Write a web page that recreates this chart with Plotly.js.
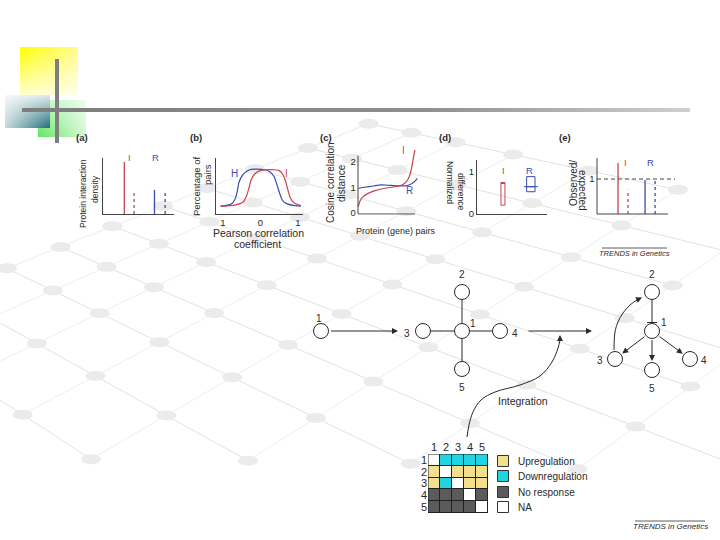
<!DOCTYPE html>
<html><head><meta charset="utf-8">
<script src="https://cdn.plot.ly/plotly-3.0.1.min.js"></script>
<style>html,body{margin:0;padding:0;background:#fff}#chart{width:720px;height:540px}</style>
</head><body><div id="chart"></div>
<script>
// ================= DATA =================
// (a) protein interaction density: I observed, I expected, R observed, R expected
const aCategories = ['I', 'I expected', 'R', 'R expected'];
const aValues = [0.93, 0.43, 0.43, 0.43];
// (b) percentage of pairs vs Pearson correlation coefficient
const bH_x = [-1.07,-0.78,-0.69,-0.62,-0.58,-0.52,-0.43,-0.29,-0.16,0.11,0.24,0.36,0.44,0.51,0.58,0.68,0.91,1.08];
const bH_y = [0.14,0.18,0.25,0.40,0.55,0.65,0.73,0.79,0.80,0.79,0.76,0.67,0.52,0.37,0.25,0.19,0.15,0.14];
const bI_x = [-1.06,-0.69,-0.47,-0.38,-0.31,-0.25,-0.16,-0.03,0.15,0.37,0.51,0.60,0.67,0.73,0.80,0.91,1.08];
const bI_y = [0.14,0.16,0.21,0.31,0.46,0.61,0.71,0.77,0.79,0.79,0.77,0.70,0.58,0.43,0.28,0.19,0.15];
const bTicks = [-1, 0, 1];
const bTickText = ['1', '0', '1'];
// (c) cosine correlation distance vs protein (gene) pairs
const cR_x = [0.006,0.12,0.27,0.41,0.58,0.77,0.85,0.94,1.0,1.04];
const cR_y = [0.97,1.01,1.06,1.10,1.08,1.06,1.07,1.15,1.25,1.36];
const cI_x = [0.006,0.035,0.09,0.18,0.30,0.47,0.65,0.77,0.85,0.91,0.95,0.98,1.0];
const cI_y = [0.25,0.47,0.64,0.77,0.88,0.97,1.03,1.10,1.23,1.49,1.88,2.27,2.47];
const cTicks = [0, 1, 2];
// (d) normalized difference boxes (I, R)
const dCategories = ['I', 'R'];
const dQ1 = [0.21, 0.53];
const dMedian = [0.75, 0.65];
const dQ3 = [0.75, 0.89];
const dTicks = [0, 1];
// (e) observed / expected
const eCategories = ['I', 'I expected', 'R', 'R expected'];
const eValues = [1.46, 0.69, 0.97, 0.94];
const eReference = 1;
// response grid (rows x columns, genes 1..5)
const gridIds = ['1', '2', '3', '4', '5'];
const legendLabels = ['Upregulation', 'Downregulation', 'No response', 'NA'];
const gridStates = [
  ['NA', 'Downregulation', 'Downregulation', 'Downregulation', 'Downregulation'],
  ['Upregulation', 'NA', 'Upregulation', 'Upregulation', 'Upregulation'],
  ['Upregulation', 'Downregulation', 'NA', 'Upregulation', 'Upregulation'],
  ['No response', 'No response', 'No response', 'NA', 'No response'],
  ['No response', 'No response', 'No response', 'No response', 'NA']
];
// network node labels
const nodeLabels = ['1', '2', '3', '4', '5'];

// ================= STYLE / LAYOUT CONSTANTS =================
const W = 720, H = 540;
const FONT = 'Liberation Sans, Arial, sans-serif';
const RED = '#c8434f', BLUE = '#3a4cb0', INK = '#2a2a2a';
const legendColors = ['#f3df8c', '#22d4e2', '#5b5b5b', '#ffffff'];
const px = x => x / W, py = y => 1 - y / H;
function xDom(p0, v0, p1, v1, r) { const k = (p1 - p0) / (v1 - v0); return [(p0 + (r[0] - v0) * k) / W, (p0 + (r[1] - v0) * k) / W]; }
function yDom(p0, v0, p1, v1, r) { const k = (p1 - p0) / (v1 - v0); return [1 - (p0 + (r[0] - v0) * k) / H, 1 - (p0 + (r[1] - v0) * k) / H]; }
function axis(domain, range, anchor, opts) {
  return Object.assign({domain, range, anchor, showgrid: false, zeroline: false, showline: false, ticks: '',
    showticklabels: false, fixedrange: true, linecolor: '#444', linewidth: 1,
    tickfont: {family: FONT, size: 9.5, color: INK}}, opts || {});
}
// positions of marks inside panels (layout)
const aPos = [1.2, 1.75, 2.9, 3.5];
const ePos = [0.296, 0.437, 0.677, 0.818];
const pairColors = [RED, RED, BLUE, BLUE];
const pairDash = ['solid', '3px,3px', 'solid', '3px,3px'];
const dPos = [0.371, 0.769];
const dWidth = [0.057, 0.12];
const dColors = [RED, BLUE];
// network layout (canvas pixel space)
const srcNode = {x: 321, y: 331, lx: 319, ly: 318};
const starX = [462, 462, 423, 500, 462], starY = [331, 292, 331, 331, 369];
const starLX = [473, 462, 407, 515, 462], starLY = [323, 274, 333, 333, 387];
const outX = [652, 652, 615, 690, 652], outY = [331, 292, 359, 359, 370];
const outLX = [664, 652, 600, 704, 652], outLY = [322, 274, 360, 360, 388];
const R_NODE = 7.5;

const traces = [];
const shapes = [];
const ann = [];
function T(text, x, y, o) {
  o = o || {};
  return {text, x: px(x), y: py(y), xref: 'paper', yref: 'paper', showarrow: false,
    xanchor: o.xa || 'center', yanchor: 'middle', textangle: o.angle || 0,
    font: {family: FONT, size: o.size || 10, color: o.color || INK}};
}
function C(text, x, y, o) { // canvas-coordinate annotation
  o = o || {};
  return {text, x, y, xref: 'x', yref: 'y', showarrow: false, xanchor: o.xa || 'center', yanchor: 'middle',
    font: {family: FONT, size: o.size || 10, color: o.color || INK}};
}
function arrow(tx, ty, hx, hy) {
  return {x: hx, y: hy, ax: tx, ay: ty, xref: 'x', yref: 'y', axref: 'x', ayref: 'y', text: '',
    showarrow: true, arrowhead: 2, arrowsize: 1.2, arrowwidth: 1, arrowcolor: INK, standoff: 0, startstandoff: 0};
}

// ================= BACKGROUND LATTICE (decoration) =================
const latB = [45, 72, 98, 124, 150, 183, 221, 265, 323, 400];
const latCX = [7, 53, 100, 160, 233, 317, 412, 517, 632, 757];
const latCS = [-0.40, -0.44, -0.48, -0.53, -0.58, -0.63, -0.68, -0.73, -0.78, -0.83];
const slopeOf = b => 0.43 - (221 - b) * 0.00123;
const P = latB.map(b => latCX.map((xc, j) => {
  const yc = 265 + 0.48 * xc, s = latCS[j], m = slopeOf(b);
  const x = (yc - s * xc - b) / (m - s);
  return [x, b + m * x];
}));
const inside = p => p[0] > -40 && p[0] < 760 && p[1] > -20 && p[1] < 480;
P.forEach(row => {
  const pts = row.filter(inside);
  if (pts.length > 1) shapes.push({type: 'line', xref: 'x', yref: 'y', layer: 'below', x0: pts[0][0], y0: pts[0][1],
    x1: pts[pts.length - 1][0], y1: pts[pts.length - 1][1], line: {color: '#e2e2e2', width: 1}});
});
latCX.forEach((_, j) => {
  const pts = P.map(r => r[j]).filter(inside);
  if (pts.length > 1) shapes.push({type: 'line', xref: 'x', yref: 'y', layer: 'below', x0: pts[0][0], y0: pts[0][1],
    x1: pts[pts.length - 1][0], y1: pts[pts.length - 1][1], line: {color: '#eeeeee', width: 1}});
});
P.forEach(row => row.forEach(p => {
  if (p[0] > 0 && p[0] < 720 && p[1] > 0 && p[1] < 470)
    shapes.push({type: 'circle', xref: 'x', yref: 'y', layer: 'below', x0: p[0] - 10, x1: p[0] + 10, y0: p[1] - 5, y1: p[1] + 5,
      fillcolor: '#ebebeb', line: {width: 0}});
}));

// ================= DECORATIVE SQUARES & GREY CROSS =================
function rectTrace(x0, y0, x1, y1, grad) {
  return {type: 'scatter', xaxis: 'x', yaxis: 'y', x: [x0, x1, x1, x0, x0], y: [y0, y0, y1, y1, y0], mode: 'lines',
    line: {width: 0, color: 'rgba(0,0,0,0)'}, fill: 'toself', fillgradient: grad, hoverinfo: 'skip'};
}
traces.push(rectTrace(20, 47, 78, 95, {type: 'horizontal', colorscale: [[0, '#ffff00'], [1, '#fffb90']]}));
traces.push(rectTrace(20, 47, 78, 95, {type: 'vertical', colorscale: [[0, 'rgba(255,255,255,0.8)'], [1, 'rgba(255,255,255,0)']]}));
traces.push(rectTrace(38, 100, 86, 137, {type: 'horizontal', colorscale: [[0, '#5fe65f'], [1, '#d6f8d6']]}));
traces.push(rectTrace(38, 100, 86, 137, {type: 'vertical', colorscale: [[0, 'rgba(255,255,255,0)'], [1, 'rgba(255,255,255,0.6)']]}));
traces.push(rectTrace(5, 95, 50, 128, {type: 'horizontal', colorscale: [[0, '#c4dadd'], [1, '#1e6e7b']]}));
traces.push(rectTrace(5, 95, 50, 128, {type: 'vertical', colorscale: [[0, 'rgba(255,255,255,0)'], [1, 'rgba(255,255,255,0.85)']]}));
traces.push(rectTrace(22, 108, 690, 112, {type: 'horizontal', colorscale: [[0, '#7d7d7d'], [0.6, '#8e8e8e'], [1, '#d0d0d0']]}));
traces.push({type: 'scatter', xaxis: 'x', yaxis: 'y', x: [57, 57], y: [59, 143], mode: 'lines',
  line: {color: '#7f7f7f', width: 4}, hoverinfo: 'skip'});

// ================= PANEL (a) =================
aValues.forEach((v, i) => traces.push({type: 'scatter', xaxis: 'x2', yaxis: 'y2', x: [aPos[i], aPos[i]], y: [0, v],
  mode: 'lines', name: aCategories[i], line: {color: pairColors[i], width: 1.3, dash: pairDash[i]}}));
// ================= PANEL (b) =================
traces.push({type: 'scatter', xaxis: 'x3', yaxis: 'y3', x: bH_x, y: bH_y, mode: 'lines', name: 'H',
  line: {color: BLUE, width: 1.2, shape: 'spline', smoothing: 0.8}});
traces.push({type: 'scatter', xaxis: 'x3', yaxis: 'y3', x: bI_x, y: bI_y, mode: 'lines', name: 'I',
  line: {color: RED, width: 1.2, shape: 'spline', smoothing: 0.8}});
// ================= PANEL (c) =================
traces.push({type: 'scatter', xaxis: 'x4', yaxis: 'y4', x: cR_x, y: cR_y, mode: 'lines', name: 'R',
  line: {color: BLUE, width: 1.2, shape: 'spline', smoothing: 0.8}});
traces.push({type: 'scatter', xaxis: 'x4', yaxis: 'y4', x: cI_x, y: cI_y, mode: 'lines', name: 'I',
  line: {color: RED, width: 1.2, shape: 'spline', smoothing: 0.8}});
shapes.push({type: 'line', xref: 'x4', yref: 'y4', x0: 0, x1: 0, y0: -0.04, y1: 2.25, line: {color: '#444', width: 1}});
shapes.push({type: 'line', xref: 'x4', yref: 'y4', x0: 0, x1: 1.0, y0: -0.04, y1: -0.04, line: {color: '#444', width: 1}});
// ================= PANEL (d) =================
dCategories.forEach((c, i) => traces.push({type: 'box', xaxis: 'x5', yaxis: 'y5', name: c, x: [dPos[i]],
  q1: [dQ1[i]], median: [dMedian[i]], q3: [dQ3[i]], lowerfence: [dQ1[i]], upperfence: [dQ3[i]],
  width: dWidth[i], whiskerwidth: 0, boxpoints: false, line: {color: dColors[i], width: 1},
  fillcolor: 'rgba(255,255,255,0)'}));
traces.push({type: 'scatter', xaxis: 'x5', yaxis: 'y5', x: [dPos[1] - 0.1, dPos[1] + 0.1], y: [dMedian[1], dMedian[1]],
  mode: 'lines', line: {color: BLUE, width: 1}});
// ================= PANEL (e) =================
eValues.forEach((v, i) => traces.push({type: 'scatter', xaxis: 'x6', yaxis: 'y6', x: [ePos[i], ePos[i]], y: [0, v],
  mode: 'lines', name: eCategories[i], line: {color: pairColors[i], width: 1.3, dash: pairDash[i]}}));
shapes.push({type: 'line', xref: 'x6', yref: 'y6', x0: 0, x1: 1.1, y0: eReference, y1: eReference, line: {color: '#444', width: 1, dash: '4px,3px'}});
shapes.push({type: 'line', xref: 'x6', yref: 'y6', x0: 0, x1: 0, y0: 0, y1: 1.6, line: {color: '#444', width: 1}});
shapes.push({type: 'line', xref: 'x6', yref: 'y6', x0: 0, x1: 1.0, y0: 0, y1: 0, line: {color: '#444', width: 1}});

// ================= NETWORKS =================
// star edges (center node 0 to others)
const starEX = [], starEY = [];
for (let k = 1; k < 5; k++) { starEX.push(starX[0], starX[k], null); starEY.push(starY[0], starY[k], null); }
traces.push({type: 'scatter', xaxis: 'x', yaxis: 'y', x: starEX, y: starEY, mode: 'lines', line: {color: INK, width: 1}, hoverinfo: 'skip'});
// node circles
traces.push({type: 'scatter', xaxis: 'x', yaxis: 'y', x: [srcNode.x].concat(starX, outX), y: [srcNode.y].concat(starY, outY),
  mode: 'markers', marker: {size: 15, color: '#fff', line: {color: INK, width: 1}}, hoverinfo: 'skip'});
// labels
ann.push(C(nodeLabels[0], srcNode.lx, srcNode.ly));
nodeLabels.forEach((l, i) => { ann.push(C(l, starLX[i], starLY[i])); ann.push(C(l, outLX[i], outLY[i])); });
// arrows between panels
ann.push(arrow(srcNode.x + R_NODE + 1, srcNode.y, starX[2] - 25, starY[2]));
ann.push(arrow(starLX[3] + 12, starY[3], outX[2] - 23, starY[3]));
// regulatory arrows from node 1 to 3, 4, 5
[2, 3, 4].forEach(k => {
  const dx = outX[k] - outX[0], dy = outY[k] - outY[0], L = Math.hypot(dx, dy);
  ann.push(arrow(outX[0] + dx / L * R_NODE, outY[0] + dy / L * R_NODE, outX[k] - dx / L * (R_NODE + 1.5), outY[k] - dy / L * (R_NODE + 1.5)));
});
// inhibition 2 -| 1
traces.push({type: 'scatter', xaxis: 'x', yaxis: 'y',
  x: [outX[1], outX[0], null, outX[0] - 5, outX[0] + 5],
  y: [outY[1] + R_NODE, outY[0] - R_NODE - 1, null, outY[0] - R_NODE - 1, outY[0] - R_NODE - 1],
  mode: 'lines', line: {color: INK, width: 1}, hoverinfo: 'skip'});
// curved arrow 3 -> 2
const curve32x = [614, 615, 618, 623, 630, 637], curve32y = [350, 332, 322, 313, 305, 300];
traces.push({type: 'scatter', xaxis: 'x', yaxis: 'y', x: curve32x, y: curve32y, mode: 'lines',
  line: {color: INK, width: 1, shape: 'spline'}, hoverinfo: 'skip'});
ann.push(arrow(636, 300.3, 642, 297.5));
// integration curve
const intX = [467, 469, 473, 481, 495, 520, 540, 552, 558, 560], intY = [437, 425, 412, 400, 392, 385, 376, 362, 348, 340];
traces.push({type: 'scatter', xaxis: 'x', yaxis: 'y', x: intX, y: intY, mode: 'lines',
  line: {color: INK, width: 1, shape: 'spline'}, hoverinfo: 'skip'});
ann.push(arrow(560, 342, 560, 335));
ann.push(C('Integration', 523, 401, {size: 10.5}));

// ================= RESPONSE GRID =================
const zGrid = gridStates.map(r => r.map(s => legendLabels.indexOf(s) === 3 ? 0 : legendLabels.indexOf(s) + 1));
const stateColors = [legendColors[3], legendColors[0], legendColors[1], legendColors[2]];
traces.push({type: 'heatmap', xaxis: 'x7', yaxis: 'y7', z: zGrid, x: [0, 1, 2, 3, 4], y: [0, 1, 2, 3, 4], zmin: 0, zmax: 3,
  xgap: 1, ygap: 1, showscale: false, hoverinfo: 'skip',
  colorscale: [[0, stateColors[0]], [0.25, stateColors[0]], [0.25, stateColors[1]], [0.5, stateColors[1]],
    [0.5, stateColors[2]], [0.75, stateColors[2]], [0.75, stateColors[3]], [1, stateColors[3]]]});
shapes.push({type: 'rect', xref: 'x7', yref: 'y7', layer: 'below', x0: -0.5, x1: 4.5, y0: -0.5, y1: 4.5, fillcolor: '#222', line: {width: 0}});
shapes.push({type: 'rect', xref: 'x7', yref: 'y7', x0: -0.5, x1: 4.5, y0: -0.5, y1: 4.5, line: {color: '#222', width: 1}});
// legend
const legY = [461, 476, 492, 507];
traces.push({type: 'scatter', xaxis: 'x', yaxis: 'y', x: legendLabels.map(() => 503), y: legY, mode: 'markers',
  marker: {symbol: 'square', size: 11, color: legendColors, line: {color: '#333', width: 1}}, hoverinfo: 'skip'});
legendLabels.forEach((l, i) => ann.push(C(l, 516, legY[i], {xa: 'left', size: 10})));

// ================= TEXT =================
[['(a)', 82], ['(b)', 196], ['(c)', 326], ['(d)', 445], ['(e)', 565]].forEach(p => ann.push(T('<b>' + p[0] + '</b>', p[1], 137, {size: 9.5})));
ann.push(T('Protein interaction', 83, 194, {angle: -90, size: 8.5}));
ann.push(T('density', 95, 189, {angle: -90, size: 8.5}));
ann.push(T('I', 129, 158, {color: RED, size: 9.5}));
ann.push(T('R', 155, 158, {color: BLUE, size: 9.5}));
ann.push(T('Percentage of', 196, 186, {angle: -90, size: 9.5}));
ann.push(T('pairs', 208, 174, {angle: -90, size: 9.5}));
ann.push(T('Pearson correlation', 258, 233, {size: 10.5}));
ann.push(T('coefficient', 257, 244, {size: 10.5}));
ann.push(T('H', 234, 173, {color: BLUE, size: 10}));
ann.push(T('I', 286, 173, {color: RED, size: 10}));
ann.push(T('Cosine correlation', 330, 183, {angle: -90, size: 10}));
ann.push(T('distance', 341, 183, {angle: -90, size: 10}));
ann.push(T('Protein (gene) pairs', 396, 231, {size: 9}));
ann.push(T('I', 403, 150, {color: RED, size: 10}));
ann.push(T('R', 409, 190, {color: BLUE, size: 10}));
ann.push(T('Normalized', 450, 182, {angle: 90, size: 8.5}));
ann.push(T('difference', 461, 192, {angle: 90, size: 8.5}));
ann.push(T('I', 503, 170, {color: RED, size: 9.5}));
ann.push(T('R', 529, 170, {color: BLUE, size: 9.5}));
ann.push(T('Observed/', 573, 183, {angle: -90, size: 10}));
ann.push(T('expected', 583, 190, {angle: 90, size: 10}));
ann.push(T('I', 625, 162, {color: RED, size: 9.5}));
ann.push(T('R', 650, 163, {color: BLUE, size: 9.5}));
ann.push(T('<i>TRENDS in Genetics</i>', 634.5, 253.5, {size: 7.5}));
shapes.push({type: 'line', xref: 'paper', yref: 'paper', x0: px(602), x1: px(667), y0: py(248), y1: py(248), line: {color: '#333', width: 0.8}});
ann.push(T('<i>TRENDS in Genetics</i>', 670, 526.5, {size: 8}));
shapes.push({type: 'line', xref: 'paper', yref: 'paper', x0: px(635), x1: px(705), y0: py(521), y1: py(521), line: {color: '#333', width: 0.8}});

// ================= LAYOUT =================
const LINE = {showline: true};
const layout = {
  width: W, height: H, margin: {l: 0, r: 0, t: 0, b: 0, pad: 0},
  paper_bgcolor: '#ffffff', plot_bgcolor: 'rgba(0,0,0,0)', showlegend: false, hovermode: false,
  font: {family: FONT, size: 10, color: INK},
  xaxis: axis([0, 1], [0, W], 'y', {visible: false}),
  yaxis: axis([0, 1], [H, 0], 'x', {visible: false}),
  xaxis2: axis(xDom(103, 0, 174, 4, [0, 4]), [0, 4], 'y2', LINE),
  yaxis2: axis(yDom(214, 0, 158, 1, [0, 1]), [0, 1], 'x2', LINE),
  xaxis3: axis(xDom(223, -1, 298, 1, [-1.187, 1.133]), [-1.187, 1.133], 'y3',
    {showline: true, showticklabels: true, tickvals: bTicks, ticktext: bTickText}),
  yaxis3: axis(yDom(214, 0, 158, 1, [0, 1]), [0, 1], 'x3', LINE),
  xaxis4: axis(xDom(358, 0, 415, 1, [-0.02, 1.06]), [-0.02, 1.06], 'y4'),
  yaxis4: axis(yDom(213, 0, 187.5, 1, [-0.07, 2.5]), [-0.07, 2.5], 'x4', {showticklabels: true, tickvals: cTicks}),
  xaxis5: axis(xDom(477, 0, 547, 1, [0, 1]), [0, 1], 'y5', LINE),
  yaxis5: axis(yDom(214, 0, 172, 1, [0, 1.286]), [0, 1.286], 'x5', {showline: true, showticklabels: true, tickvals: dTicks}),
  xaxis6: axis(xDom(597, 0, 668, 1, [-0.02, 1.1]), [-0.02, 1.1], 'y6'),
  yaxis6: axis(yDom(214, 0, 179, 1, [-0.03, 1.6]), [-0.03, 1.6], 'x6', {showticklabels: true, tickvals: [eReference]}),
  xaxis7: axis([px(428), px(488)], [-0.5, 4.5], 'y7', {side: 'top', showticklabels: true, tickvals: [0, 1, 2, 3, 4], ticktext: gridIds,
    tickfont: {family: FONT, size: 11, color: INK}}),
  yaxis7: axis([py(513), py(454)], [4.5, -0.5], 'x7', {showticklabels: true, tickvals: [0, 1, 2, 3, 4], ticktext: gridIds,
    tickfont: {family: FONT, size: 11, color: INK}}),
  shapes, annotations: ann
};
Plotly.newPlot('chart', traces, layout, {staticPlot: true, displayModeBar: false});
</script></body></html>
